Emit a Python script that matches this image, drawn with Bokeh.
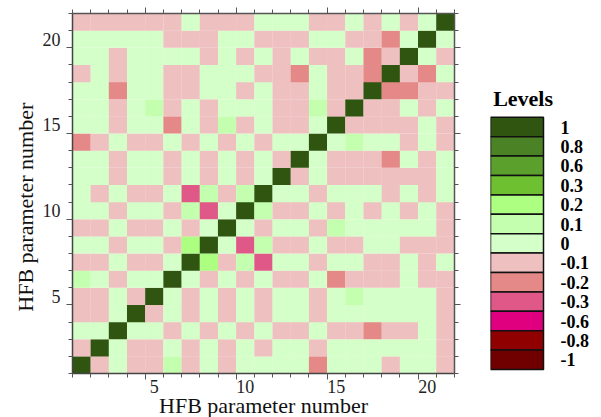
from bokeh.core.properties import value
from bokeh.embed import file_html
from bokeh.resources import INLINE
from bokeh.layouts import row
from bokeh.models import ColumnDataSource, FixedTicker, LinearAxis, Range1d
from bokeh.plotting import figure

SERIF = "Liberation Serif"

legend_title = "Levels"
legend_levels = [1, 0.8, 0.6, 0.3, 0.2, 0.1, 0, -0.1, -0.2, -0.3, -0.6, -0.8, -1]
legend_colors = ["#2f5510", "#4a8225", "#5ba02c", "#6fc030", "#acff80", "#c4ffb0", "#d5ffc8",
                 "#efc0c0", "#e58888", "#e05888", "#e0007f", "#900000", "#700000"]
axis_tick_labels = [5, 10, 15, 20]
x_title = "HFB parameter number"
y_title = "HFB parameter number"

# rows of the matrix, parameter 1 (bottom) to parameter 21 (top)
row_01 = [1,-.1,0,-.1,-.1,.1,-.1,0,-.1,0,0,0,0,-.2,0,0,0,-.1,0,0,-.1]
row_02 = [-.1,1,0,-.1,-.1,0,-.1,0,-.1,0,-.1,0,0,-.1,0,0,0,0,0,0,-.1]
row_03 = [0,0,1,0,0,-.1,0,-.1,0,-.1,0,-.1,-.1,0,-.1,-.1,-.2,-.1,-.1,0,-.1]
row_04 = [-.1,-.1,0,1,-.1,0,-.1,0,-.1,0,-.1,0,0,-.1,0,0,0,0,0,0,-.1]
row_05 = [-.1,-.1,0,-.1,1,0,-.1,0,-.1,0,-.1,0,0,-.1,0,.1,0,0,0,0,-.1]
row_06 = [.1,0,-.1,0,0,1,0,-.1,0,-.1,0,-.1,-.1,0,-.2,-.1,-.1,-.1,0,-.1,-.1]
row_07 = [-.1,-.1,0,-.1,-.1,0,1,.2,-.1,.1,-.3,0,0,-.1,0,0,-.1,-.1,0,-.1,0]
row_08 = [0,0,-.1,0,0,-.1,.2,1,0,-.3,.1,-.1,-.1,0,-.1,-.1,0,0,-.1,-.1,-.1]
row_09 = [-.1,-.1,0,-.1,-.1,0,-.1,0,1,0,-.1,0,0,-.1,.1,0,0,0,0,0,-.1]
row_10 = [0,0,-.1,0,0,-.1,.1,-.3,0,1,.1,-.1,-.1,0,-.1,0,-.1,0,-.1,0,-.1]
row_11 = [0,-.1,0,-.1,-.1,0,-.3,.1,-.1,.1,1,0,0,-.1,0,0,0,-.1,0,-.1,0]
row_12 = [0,0,-.1,0,0,-.1,0,-.1,0,-.1,0,1,-.1,0,-.1,-.1,-.1,-.1,-.1,-.1,0]
row_13 = [0,0,-.1,0,0,-.1,0,-.1,0,-.1,0,-.1,1,0,-.1,-.1,-.1,-.2,0,-.1,0]
row_14 = [-.2,-.1,0,-.1,-.1,0,-.1,0,-.1,0,-.1,0,0,1,0,.1,0,0,-.1,0,-.1]
row_15 = [0,0,-.1,0,0,-.2,0,-.1,.1,-.1,0,-.1,-.1,0,1,-.1,-.1,-.1,-.1,0,-.1]
row_16 = [0,0,-.1,0,.1,-.1,0,-.1,0,0,0,-.1,-.1,.1,-.1,1,-.1,-.1,0,-.1,0]
row_17 = [0,0,-.2,0,0,-.1,-.1,0,0,-.1,0,-.1,-.1,0,-.1,-.1,1,-.2,-.2,-.1,-.1]
row_18 = [-.1,0,-.1,0,0,-.1,-.1,0,0,0,-.1,-.1,-.2,0,-.1,-.1,-.2,1,-.1,-.2,0]
row_19 = [0,0,-.1,0,0,0,0,-.1,0,-.1,0,-.1,0,-.1,-.1,0,-.2,-.1,1,0,-.1]
row_20 = [0,0,0,0,0,-.1,-.1,-.1,0,0,-.1,-.1,-.1,0,0,-.1,-.1,-.2,0,1,0]
row_21 = [-.1,-.1,-.1,-.1,-.1,-.1,0,-.1,-.1,-.1,0,0,0,-.1,-.1,0,-.1,0,-.1,0,1]
rows = [row_01, row_02, row_03, row_04, row_05, row_06, row_07, row_08, row_09, row_10, row_11,
        row_12, row_13, row_14, row_15, row_16, row_17, row_18, row_19, row_20, row_21]

level_color = dict(zip(legend_levels, legend_colors))
n = len(rows)
xs, ys, cs = [], [], []
for j, r in enumerate(rows, start=1):
    for i, v in enumerate(r, start=1):
        xs.append(i); ys.append(j); cs.append(level_color[v])

p = figure(width=472, height=417, frame_width=382, frame_height=360,
           output_backend="svg", toolbar_location=None,
           x_range=Range1d(0.5, n + 0.5), y_range=Range1d(0.5, n + 0.5),
           x_axis_location=None, y_axis_location=None,
           min_border_left=72, min_border_right=18, min_border_top=21, min_border_bottom=36)
p.grid.visible = False
p.outline_line_color = None
p.background_fill_color = None
p.border_fill_color = None
p.rect(x="x", y="y", width=1.01, height=1.01, fill_color="c", line_color=None,
       source=ColumnDataSource(dict(x=xs, y=ys, c=cs)))

edges = [0.5 + k for k in range(n + 1)]
long_edges = [e for e in edges if (e + 0.5) % 5 == 0]
short_edges = [e for e in edges if e not in long_edges]

def tick_axis():
    a = LinearAxis(ticker=FixedTicker(ticks=long_edges, minor_ticks=short_edges))
    a.major_label_overrides = {e: "" for e in long_edges}
    a.major_label_text_font_size = "1px"
    a.major_label_standoff = 0
    a.major_tick_in = 0; a.major_tick_out = 6
    a.minor_tick_in = 0; a.minor_tick_out = 4
    a.axis_line_color = "#444444"; a.axis_line_width = 1.5
    a.major_tick_line_color = "#555555"; a.minor_tick_line_color = "#555555"
    return a

def label_axis(title, standoff, title_standoff):
    a = LinearAxis(ticker=FixedTicker(ticks=axis_tick_labels), axis_label=title)
    a.major_tick_line_color = None
    a.minor_tick_line_color = None
    a.axis_line_color = None
    a.major_tick_in = 0; a.major_tick_out = 0
    a.major_label_text_font = SERIF
    a.major_label_text_font_size = "18px"
    a.major_label_text_color = "#222222"
    a.axis_label_text_font = SERIF
    a.axis_label_text_font_size = "22px"
    a.axis_label_text_font_style = "normal"
    a.axis_label_text_color = "#111111"
    a.major_label_standoff = standoff
    a.axis_label_standoff = title_standoff
    return a

p.add_layout(tick_axis(), "below")
p.add_layout(label_axis(x_title, 0, -3), "below")
p.add_layout(tick_axis(), "left")
# trailing no-break spaces move the centred y title down the axis, as in the reference
p.add_layout(label_axis(y_title + "\u00a0" * 5, 6, 2), "left")
p.add_layout(tick_axis(), "above")
p.add_layout(tick_axis(), "right")
for a in p.above + p.right:
    a.axis_line_color = "#555555"

ny = len(legend_levels)
ly = list(range(ny, 0, -1))
# same frame height as the matrix, 19.4 px per legend entry, first entry 4 px above the frame's foot
swatch_px = 53
frame_px = 68
q = figure(width=113, height=417, frame_width=frame_px, frame_height=360,
           output_backend="svg", toolbar_location=None,
           x_range=Range1d(0, frame_px / swatch_px), y_range=Range1d(0.294, 0.294 + 360 / 19.4),
           x_axis_location=None, y_axis_location=None,
           min_border_left=18, min_border_right=27, min_border_top=21, min_border_bottom=36)
q.grid.visible = False
q.outline_line_color = None
q.border_fill_color = None
q.background_fill_color = None
q.rect(x=[0.5] * ny, y=ly, width=1, height=1, fill_color=legend_colors,
       line_color="#111111", line_width=1.5)
q.text(x=[0.05], y=[ny + 1.47], text=[legend_title], text_font=value(SERIF), text_font_size="22px",
       text_font_style="bold", text_color="#000000", text_baseline="middle", text_align="left")
la = LinearAxis(ticker=FixedTicker(ticks=ly))
la.major_label_overrides = {y: str(v) for y, v in zip(ly, legend_levels)}
la.axis_line_color = None
la.major_tick_line_color = None
la.minor_tick_line_color = None
la.major_tick_in = 0; la.major_tick_out = 0
la.major_label_standoff = 2
la.major_label_text_font = SERIF
la.major_label_text_font_size = "18px"
la.major_label_text_font_style = "bold"
la.major_label_text_color = "#000000"
q.add_layout(la, "right")

layout = row(p, q, spacing=0)
layout.styles = {"margin-top": "-8px"}
open("out.html", "w").write(file_html(layout, INLINE))
